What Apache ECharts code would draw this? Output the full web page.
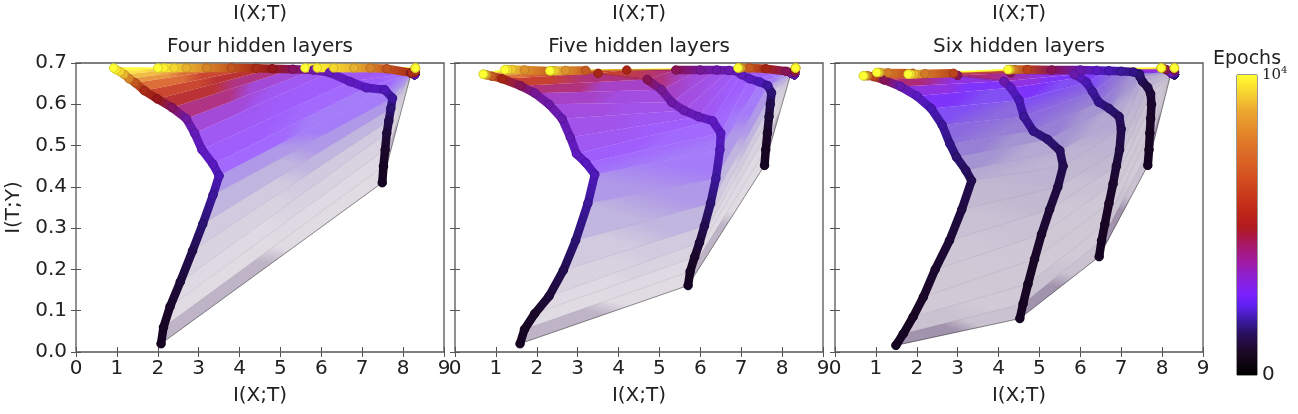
<!DOCTYPE html>
<html>
<head>
<meta charset="utf-8">
<script src="https://cdn.jsdelivr.net/npm/echarts@6/dist/echarts.min.js"></script>
<style>
html, body { margin: 0; padding: 0; background: #fff; }
#chart { width: 1298px; height: 414px; }
</style>
</head>
<body>
<div id="chart"></div>
<script>
// tick labels and titles
var xTicks = [0, 1, 2, 3, 4, 5, 6, 7, 8, 9];
var yTicks = [0.0, 0.1, 0.2, 0.3, 0.4, 0.5, 0.6, 0.7];
var titles = ['Four hidden layers', 'Five hidden layers', 'Six hidden layers'];
var epochMax = 10000;

// epoch of each sampled stage, one list per network
var epochs4 = [0, 400, 800, 1200, 1500, 1800, 2100, 2400, 2600, 2750, 2900, 3300, 4200, 5000, 5800, 7000, 8200, 9000, 9500, 9800, 10000];
var epochs5 = [0, 400, 800, 1200, 1500, 1800, 2100, 2400, 2600, 2750, 2900, 3050, 3200, 3500, 4300, 5600, 7200, 8500, 9300, 9700, 10000];
var epochs6 = [0, 250, 500, 750, 950, 1150, 1350, 1500, 1650, 1800, 1950, 2100, 2300, 2600, 3100, 4300, 6500, 8000, 9000, 9600, 10000];

// [I(X;T), I(T;Y)] of every layer at each stage
var fourL1 = [[8.28,0.672],[8.28,0.672],[8.28,0.672],[8.28,0.672],[8.28,0.672],[8.28,0.672],[8.28,0.672],[8.28,0.672],[8.28,0.672],[8.28,0.672],[8.28,0.672],[8.29,0.678],[8.29,0.678],[8.29,0.678],[8.29,0.678],[8.3,0.684],[8.3,0.688],[8.3,0.688],[8.3,0.688],[8.3,0.688],[8.3,0.688]];
var fourL2 = [[8.2,0.676],[8.2,0.676],[8.2,0.676],[8.2,0.676],[8.2,0.676],[8.2,0.676],[8.2,0.676],[8.2,0.676],[8.2,0.676],[8.2,0.676],[8.2,0.676],[8.2,0.676],[8.2,0.676],[8.2,0.676],[8.2,0.676],[7.6,0.686],[7.2,0.688],[6.8,0.688],[6.3,0.688],[5.9,0.688],[5.6,0.688]];
var fourL3 = [[7.49,0.41],[7.52,0.45],[7.56,0.49],[7.6,0.53],[7.65,0.56],[7.7,0.59],[7.74,0.615],[7.55,0.635],[7.1,0.64],[6.7,0.655],[6.2,0.677],[5.8,0.683],[5.3,0.685],[4.8,0.686],[4.4,0.687],[3.8,0.688],[3.2,0.688],[2.7,0.688],[2.4,0.688],[2.15,0.688],[2.0,0.688]];
var fourL4 = [[2.08,0.02],[2.14,0.06],[2.3,0.11],[2.55,0.17],[2.85,0.245],[3.1,0.31],[3.35,0.38],[3.5,0.427],[3.35,0.455],[3.08,0.49],[2.9,0.53],[2.7,0.565],[2.35,0.592],[1.99,0.613],[1.67,0.633],[1.45,0.652],[1.3,0.662],[1.18,0.672],[1.08,0.679],[0.98,0.684],[0.92,0.688]];

var fiveL1 = [[8.3,0.672],[8.3,0.672],[8.3,0.672],[8.3,0.672],[8.3,0.672],[8.3,0.672],[8.3,0.672],[8.3,0.672],[8.3,0.672],[8.3,0.672],[8.3,0.672],[8.31,0.678],[8.31,0.678],[8.31,0.678],[8.31,0.678],[8.32,0.684],[8.33,0.688],[8.33,0.688],[8.33,0.688],[8.33,0.688],[8.33,0.688]];
var fiveL2 = [[8.22,0.676],[8.22,0.676],[8.22,0.676],[8.22,0.676],[8.22,0.676],[8.22,0.676],[8.22,0.676],[8.22,0.676],[8.22,0.676],[8.22,0.676],[8.22,0.676],[8.22,0.676],[8.22,0.676],[8.22,0.676],[8.1,0.68],[7.6,0.686],[7.2,0.688],[7.0,0.688],[6.95,0.688],[6.93,0.688],[6.92,0.688]];
var fiveL3 = [[7.57,0.452],[7.6,0.49],[7.64,0.53],[7.68,0.57],[7.71,0.6],[7.74,0.628],[7.65,0.645],[7.45,0.654],[7.2,0.662],[7.0,0.672],[6.9,0.68],[6.7,0.682],[6.4,0.683],[6.0,0.683],[5.4,0.683],[4.2,0.683],[3.2,0.682],[2.7,0.682],[2.45,0.681],[2.36,0.681],[2.32,0.681]];
var fiveL4 = [[5.7,0.161],[5.75,0.195],[5.86,0.23],[5.98,0.265],[6.1,0.305],[6.25,0.36],[6.38,0.42],[6.48,0.49],[6.5,0.53],[6.3,0.56],[5.95,0.57],[5.6,0.585],[5.3,0.605],[5.05,0.635],[4.7,0.66],[3.5,0.675],[2.4,0.68],[1.7,0.683],[1.4,0.684],[1.28,0.684],[1.22,0.684]];
var fiveL5 = [[1.59,0.02],[1.7,0.055],[1.95,0.093],[2.3,0.135],[2.65,0.198],[2.95,0.27],[3.25,0.36],[3.42,0.43],[3.2,0.458],[2.97,0.48],[2.82,0.52],[2.62,0.565],[2.3,0.6],[1.95,0.627],[1.6,0.645],[1.15,0.662],[0.9,0.668],[0.78,0.671],[0.72,0.672],[0.7,0.673],[0.69,0.673]];

var sixL1 = [[8.3,0.672],[8.3,0.672],[8.3,0.672],[8.3,0.672],[8.3,0.672],[8.3,0.672],[8.3,0.672],[8.3,0.672],[8.3,0.672],[8.3,0.672],[8.3,0.672],[8.3,0.678],[8.3,0.678],[8.3,0.678],[8.3,0.678],[8.3,0.682],[8.3,0.688],[8.3,0.688],[8.3,0.688],[8.3,0.688],[8.3,0.688]];
var sixL2 = [[8.22,0.676],[8.22,0.676],[8.22,0.676],[8.22,0.676],[8.22,0.676],[8.22,0.676],[8.22,0.676],[8.22,0.676],[8.22,0.676],[8.22,0.676],[8.22,0.676],[8.22,0.676],[8.22,0.676],[8.22,0.676],[8.22,0.676],[8.1,0.684],[8.02,0.687],[7.98,0.688],[7.98,0.688],[7.98,0.688],[7.98,0.688]];
var sixL3 = [[7.65,0.452],[7.68,0.49],[7.7,0.53],[7.72,0.565],[7.74,0.6],[7.72,0.625],[7.65,0.641],[7.52,0.655],[7.46,0.666],[7.45,0.673],[7.3,0.678],[7.0,0.68],[6.7,0.681],[6.4,0.682],[6.0,0.683],[5.3,0.683],[4.7,0.684],[4.4,0.684],[4.3,0.684],[4.25,0.684],[4.23,0.684]];
var sixL4 = [[6.46,0.231],[6.52,0.27],[6.6,0.31],[6.7,0.36],[6.8,0.407],[6.88,0.45],[6.96,0.49],[7.0,0.54],[6.95,0.57],[6.7,0.59],[6.45,0.605],[6.3,0.63],[6.15,0.653],[6.0,0.665],[5.85,0.672],[4.3,0.676],[2.9,0.675],[2.2,0.674],[1.95,0.673],[1.85,0.673],[1.79,0.673]];
var sixL5 = [[4.52,0.081],[4.6,0.117],[4.72,0.165],[4.88,0.225],[5.05,0.285],[5.25,0.345],[5.45,0.4],[5.58,0.45],[5.5,0.488],[5.2,0.515],[4.85,0.535],[4.62,0.57],[4.5,0.61],[4.3,0.64],[4.13,0.656],[3.0,0.67],[1.9,0.675],[1.3,0.676],[1.1,0.677],[1.05,0.677],[1.02,0.677]];
var sixL6 = [[1.49,0.016],[1.67,0.044],[1.91,0.085],[2.16,0.133],[2.45,0.2],[2.8,0.27],[3.1,0.345],[3.34,0.415],[3.2,0.44],[2.97,0.472],[2.81,0.504],[2.62,0.55],[2.35,0.59],[2.0,0.62],[1.6,0.643],[1.2,0.659],[0.95,0.667],[0.8,0.669],[0.74,0.669],[0.71,0.669],[0.69,0.669]];

// epoch colour scale (as on the colour bar)
var cmapPos = [0, 0.07, 0.14, 0.18, 0.23, 0.27, 0.33, 0.38, 0.44, 0.49, 0.55, 0.66, 0.78, 0.88, 0.98, 1];
var cmapHex = ['#000000', '#1a0820', '#2a1060', '#3a1aa0', '#6020f0', '#7a22ff', '#8e20d0', '#a01aa0', '#a81860', '#b01a20', '#c02818', '#d45020', '#e07a28', '#eca830', '#fff030', '#ffff33'];

var panels = [
    {epochs: epochs4, layers: [fourL1, fourL2, fourL3, fourL4], density: 1.0},
    {epochs: epochs5, layers: [fiveL1, fiveL2, fiveL3, fiveL4, fiveL5], density: 1.0},
    {epochs: epochs6, layers: [sixL1, sixL2, sixL3, sixL4, sixL5, sixL6], density: 1.45}
];
var gridLeft = [76, 455, 835];
var gridW = 368, gridTop = 63, gridH = 289;
var font = 'DejaVu Sans';

function hexRgb(h) {
    return [parseInt(h.substr(1, 2), 16), parseInt(h.substr(3, 2), 16), parseInt(h.substr(5, 2), 16)];
}
var cmapRgb = cmapHex.map(hexRgb);
function cmap(p) {
    p = Math.max(0, Math.min(1, p));
    for (var i = 1; i < cmapPos.length; i++) {
        if (p <= cmapPos[i]) {
            var t = (p - cmapPos[i - 1]) / (cmapPos[i] - cmapPos[i - 1]);
            var a = cmapRgb[i - 1], b = cmapRgb[i];
            return [a[0] + (b[0] - a[0]) * t, a[1] + (b[1] - a[1]) * t, a[2] + (b[2] - a[2]) * t];
        }
    }
    return cmapRgb[cmapRgb.length - 1];
}
function css(c, a) {
    return 'rgba(' + Math.round(c[0]) + ',' + Math.round(c[1]) + ',' + Math.round(c[2]) + ',' + a + ')';
}
function darken(c, f) {
    return [c[0] * (1 - f), c[1] * (1 - f), c[2] * (1 - f)];
}
function mix(c, m, w) {
    return [c[0] + (m[0] - c[0]) * w, c[1] + (m[1] - c[1]) * w, c[2] + (m[2] - c[2]) * w];
}
// thin early lines read as a pale mauve haze
var hazeRgb = [110, 60, 150];
function fillColor(p) {
    return mix(cmap(p), hazeRgb, Math.max(0, 1 - p / 0.22) * 0.6);
}
// line density of the fan grows with epoch
var alphaPos = [0, 0.03, 0.1, 0.16, 0.22, 0.27, 0.35, 0.45, 1];
var alphaVal = [0.34, 0.16, 0.17, 0.24, 0.5, 0.72, 0.84, 0.9, 0.9];
function fillAlpha(p, dens) {
    var v = 0.9;
    for (var i = 1; i < alphaPos.length; i++) {
        if (p <= alphaPos[i]) {
            var t = (p - alphaPos[i - 1]) / (alphaPos[i] - alphaPos[i - 1]);
            v = alphaVal[i - 1] + (alphaVal[i] - alphaVal[i - 1]) * t;
            break;
        }
    }
    return Math.min(0.92, v * dens);
}
var trajTint = [60, 12, 95];
function trajColor(p) {
    return darken(mix(cmap(p), trajTint, Math.max(0, 1 - p / 0.2) * 0.55), 0.32 * (1 - p));
}

function makeQuad(dens) {
    return function (params, api) {
        var a = api.coord([api.value(0), api.value(1)]);
        var b = api.coord([api.value(2), api.value(3)]);
        var c = api.coord([api.value(4), api.value(5)]);
        var d = api.coord([api.value(6), api.value(7)]);
        var p0 = api.value(8) / epochMax, p1 = api.value(9) / epochMax;
        var m0 = [(a[0] + b[0]) / 2, (a[1] + b[1]) / 2];
        var m1 = [(c[0] + d[0]) / 2, (c[1] + d[1]) / 2];
        var fill;
        if (Math.abs(m1[0] - m0[0]) + Math.abs(m1[1] - m0[1]) < 1) {
            fill = css(fillColor(p0), fillAlpha(p0, dens));
        } else {
            fill = new echarts.graphic.LinearGradient(m0[0], m0[1], m1[0], m1[1], [
                {offset: 0, color: css(fillColor(p0), fillAlpha(p0, dens))},
                {offset: 1, color: css(fillColor(p1), fillAlpha(p1, dens))}
            ], true);
        }
        return {type: 'polygon', shape: {points: [a, b, c, d]}, style: {fill: fill}};
    };
}

function renderSeg(params, api) {
    var a = api.coord([api.value(0), api.value(1)]);
    var b = api.coord([api.value(2), api.value(3)]);
    var p0 = api.value(4) / epochMax, p1 = api.value(5) / epochMax;
    var len = Math.sqrt((b[0] - a[0]) * (b[0] - a[0]) + (b[1] - a[1]) * (b[1] - a[1]));
    var stroke;
    if (len < 1) {
        stroke = css(trajColor(p1), 1);
    } else {
        stroke = new echarts.graphic.LinearGradient(a[0], a[1], b[0], b[1], [
            {offset: 0, color: css(trajColor(p0), 1)},
            {offset: 1, color: css(trajColor(p1), 1)}
        ], true);
    }
    return {
        type: 'line',
        shape: {x1: a[0], y1: a[1], x2: b[0], y2: b[1]},
        style: {stroke: stroke, lineWidth: len > 40 ? 1.5 : 8.5, lineCap: 'round', opacity: len > 40 ? 0.6 : 1}
    };
}

function renderDot(params, api) {
    var a = api.coord([api.value(0), api.value(1)]);
    var p = api.value(2) / epochMax;
    var c = trajColor(p);
    return {
        type: 'circle',
        shape: {cx: a[0], cy: a[1], r: 4.3},
        style: {fill: css(c, 1), stroke: css(darken(c, 0.2), 1), lineWidth: 0.8}
    };
}

var grids = [], xAxes = [], yAxes = [], series = [], titleList = [];

panels.forEach(function (pn, k) {
    grids.push({left: gridLeft[k], top: gridTop, width: gridW, height: gridH, show: true,
        borderColor: '#555', borderWidth: 1.3, backgroundColor: 'transparent'});
    xAxes.push({
        gridIndex: k, type: 'value', min: xTicks[0], max: xTicks[xTicks.length - 1], interval: 1,
        position: 'bottom', axisLine: {show: false}, splitLine: {show: false},
        axisTick: {inside: true, length: 5, lineStyle: {color: '#555'}},
        axisLabel: {fontSize: 20, color: '#222', fontFamily: font, margin: 7},
        name: 'I(X;T)', nameLocation: 'middle', nameGap: 34,
        nameTextStyle: {fontSize: 20, color: '#222', fontFamily: font}
    });
    yAxes.push({
        gridIndex: k, type: 'value', min: yTicks[0], max: yTicks[yTicks.length - 1], interval: 0.1,
        position: 'left', axisLine: {show: false}, splitLine: {show: false},
        axisTick: {inside: true, length: 5, lineStyle: {color: '#555'}},
        axisLabel: {show: k === 0, fontSize: 20, color: '#222', fontFamily: font, margin: 9,
            formatter: function (v) { return v.toFixed(1); }},
        name: k === 0 ? 'I(T;Y)' : '', nameLocation: 'middle', nameGap: 52,
        nameTextStyle: {fontSize: 20, color: '#222', fontFamily: font}
    });
    titleList.push({text: 'I(X;T)', left: gridLeft[k] + gridW / 2, top: 4, textAlign: 'center', padding: 0,
        textStyle: {fontSize: 20, fontWeight: 'normal', color: '#222', fontFamily: font}});
    titleList.push({text: titles[k], left: gridLeft[k] + gridW / 2, top: 37, textAlign: 'center', padding: 0,
        textStyle: {fontSize: 20, fontWeight: 'normal', color: '#222', fontFamily: font}});

    var L = pn.layers, ep = pn.epochs, n = L.length, N = ep.length;
    var quads = [], stages = [], segs = [], dots = [];
    for (var s = 0; s < N; s++) {
        if (s < N - 1) {
            for (var i = 0; i < n - 1; i++) {
                quads.push([L[i][s][0], L[i][s][1], L[i + 1][s][0], L[i + 1][s][1],
                    L[i + 1][s + 1][0], L[i + 1][s + 1][1], L[i][s + 1][0], L[i][s + 1][1], ep[s], ep[s + 1]]);
            }
            for (var j = 0; j < n; j++) {
                segs.push([L[j][s][0], L[j][s][1], L[j][s + 1][0], L[j][s + 1][1], ep[s], ep[s + 1]]);
            }
        }
        stages.push([s, ep[s]]);
        for (var j2 = 0; j2 < n; j2++) dots.push([L[j2][s][0], L[j2][s][1], ep[s]]);
    }
    series.push({type: 'custom', xAxisIndex: k, yAxisIndex: k, z: 1, silent: true,
        renderItem: makeQuad(pn.density), data: quads, encode: {x: [0, 2, 4, 6], y: [1, 3, 5, 7]}});
    series.push({type: 'custom', xAxisIndex: k, yAxisIndex: k, z: 2, silent: true,
        renderItem: function (params, api) {
            var st = api.value(0), p = api.value(1) / epochMax;
            var pts = L.map(function (lay) { return api.coord(lay[st]); });
            var first = st === 0, last = st === N - 1;
            return {type: 'polyline', shape: {points: pts},
                style: {fill: null, stroke: css(cmap(p), last ? 0.95 : (first ? 0.55 : 0.1)),
                    lineWidth: last ? 1.6 : 0.8}};
        },
        data: stages, encode: {x: 0, y: 1}});
    series.push({type: 'custom', xAxisIndex: k, yAxisIndex: k, z: 3, silent: true,
        renderItem: renderSeg, data: segs, encode: {x: [0, 2], y: [1, 3]}});
    series.push({type: 'custom', xAxisIndex: k, yAxisIndex: k, z: 4, silent: true,
        renderItem: renderDot, data: dots, encode: {x: 0, y: 1}});
});

// top and right tick marks
panels.forEach(function (pn, k) {
    xAxes.push({gridIndex: k, type: 'value', min: 0, max: 9, interval: 1, position: 'top',
        axisLine: {show: false}, splitLine: {show: false}, axisLabel: {show: false},
        axisTick: {inside: true, length: 5, lineStyle: {color: '#555'}}});
    yAxes.push({gridIndex: k, type: 'value', min: 0, max: 0.7, interval: 0.1, position: 'right',
        axisLine: {show: false}, splitLine: {show: false}, axisLabel: {show: false},
        axisTick: {inside: true, length: 5, lineStyle: {color: '#555'}}});
});

// colour bar
var cbarRange = [0, epochMax];
grids.push({left: 1237, top: 75, width: 20, height: 300, show: true, borderColor: '#333', borderWidth: 1});
xAxes.push({gridIndex: 3, type: 'value', min: 0, max: 1, show: false});
yAxes.push({gridIndex: 3, type: 'value', min: cbarRange[0], max: cbarRange[1], interval: cbarRange[1],
    position: 'right', axisLine: {show: false}, splitLine: {show: false}, axisTick: {show: false},
    axisLabel: {margin: 5, color: '#222', fontFamily: font, fontSize: 20,
        formatter: function (v) { return v === 0 ? '0' : '{a|10}{b|4}'; },
        rich: {a: {fontFamily: 'DejaVu Serif', fontSize: 15, color: '#222'},
               b: {fontFamily: 'DejaVu Serif', fontSize: 10, color: '#222', padding: [0, 0, 9, 0]}}}});
series.push({type: 'custom', xAxisIndex: 6, yAxisIndex: 6, z: 1, silent: true,
    data: [[0, cbarRange[0], 1, cbarRange[1]]], encode: {x: [0, 2], y: [1, 3]},
    renderItem: function (params, api) {
        var lo = api.coord([api.value(0), api.value(1)]);
        var hi = api.coord([api.value(2), api.value(3)]);
        var stops = cmapPos.map(function (p, i) { return {offset: p, color: cmapHex[i]}; });
        return {type: 'rect', shape: {x: lo[0], y: hi[1], width: hi[0] - lo[0], height: lo[1] - hi[1]},
            style: {fill: new echarts.graphic.LinearGradient(0, 1, 0, 0, stops)}};
    }});
titleList.push({text: 'Epochs', left: 1247, top: 50, textAlign: 'center', padding: 0,
    textStyle: {fontSize: 19, fontWeight: 'normal', color: '#222', fontFamily: font}});

var chart = echarts.init(document.getElementById('chart'));
chart.setOption({
    animation: false,
    backgroundColor: '#fff',
    title: titleList,
    grid: grids,
    xAxis: xAxes,
    yAxis: yAxes,
    series: series
});
</script>
</body>
</html>
